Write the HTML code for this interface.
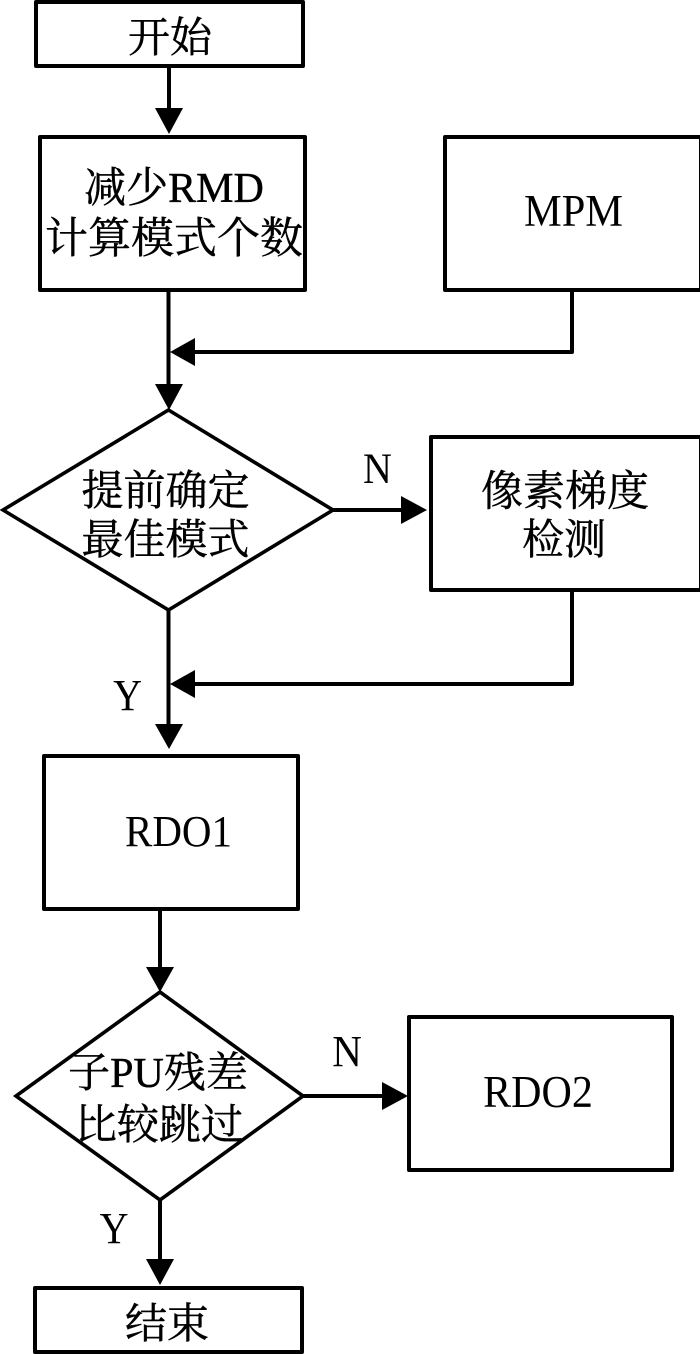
<!DOCTYPE html>
<html>
<head>
<meta charset="utf-8">
<style>
html,body{margin:0;padding:0;background:#fff;}
svg{display:block;}
text{font-family:"Liberation Serif","Noto Serif CJK SC",serif;fill:#000;text-anchor:middle;}
.c{stroke:#000;stroke-width:.45;}
.b{fill:none;stroke:#000;stroke-width:4;stroke-linejoin:round;}
.d{fill:none;stroke:#000;stroke-width:3.6;stroke-linejoin:miter;}
.l{fill:none;stroke:#000;stroke-width:4;stroke-linejoin:round;}
</style>
</head>
<body>
<svg width="700" height="1354" viewBox="0 0 700 1354" xmlns="http://www.w3.org/2000/svg">
<rect width="700" height="1354" fill="#fff"/>
<!-- boxes -->
<rect class="b" x="36" y="2" width="267" height="64"/>
<rect class="b" x="40" y="137" width="265" height="153"/>
<rect class="b" x="445" y="137" width="256" height="153"/>
<rect class="b" x="431" y="437" width="270" height="153"/>
<rect class="b" x="44" y="756" width="254" height="153"/>
<rect class="b" x="409" y="1017" width="263" height="153"/>
<rect class="b" x="35" y="1288" width="267" height="64"/>
<!-- diamonds -->
<polygon class="d" points="168.5,410 333,510 168.5,610 3,510"/>
<polygon class="d" points="160,992 303,1096 160,1200 16,1096"/>
<!-- connectors -->
<path class="l" d="M169,66V110"/>
<polygon points="155,108 183,108 169,134" fill="#000"/>
<path class="l" d="M168.5,290V386"/>
<polygon points="155,384 183,384 169,410" fill="#000"/>
<path class="l" d="M572,290V352H193"/>
<polygon points="195,338 195,366 170,352" fill="#000"/>
<path class="l" d="M333,510H403"/>
<polygon points="401,496 401,524 427,510" fill="#000"/>
<path class="l" d="M572,590V684H193"/>
<polygon points="195,670 195,698 170,684" fill="#000"/>
<path class="l" d="M168.5,610V726"/>
<polygon points="155,724 183,724 169,749" fill="#000"/>
<path class="l" d="M160,909V969"/>
<polygon points="146,967 174,967 160,992" fill="#000"/>
<path class="l" d="M303,1096H384"/>
<polygon points="382,1082 382,1110 408,1096" fill="#000"/>
<path class="l" d="M160,1200V1261"/>
<polygon points="146,1259 174,1259 160,1285" fill="#000"/>
<!-- labels -->
<text class="c" x="170" y="52" font-size="42">开始</text>
<text class="c" x="174" y="202" font-size="42">减少RMD</text>
<text class="c" x="174" y="253" font-size="43">计算模式个数</text>
<text transform="translate(573.5,226) scale(1,1.08)" font-size="42.4">MPM</text>
<text class="c" x="165.5" y="505" font-size="42">提前确定</text>
<text class="c" x="165.5" y="554" font-size="42">最佳模式</text>
<text transform="translate(377.5,483) scale(1,1.08)" font-size="40">N</text>
<text class="c" x="565" y="505.5" font-size="42">像素梯度</text>
<text class="c" x="564" y="554" font-size="42">检测</text>
<text transform="translate(127.5,710) scale(1,1.1)" font-size="40">Y</text>
<text transform="translate(178.5,846) scale(1,1.08)" font-size="41">RDO1</text>
<text class="c" x="158" y="1087" font-size="42">子PU残差</text>
<text class="c" x="159" y="1139" font-size="42">比较跳过</text>
<text transform="translate(347,1066) scale(1,1.08)" font-size="41">N</text>
<text transform="translate(538,1107) scale(1,1.08)" font-size="42">RDO2</text>
<text transform="translate(114,1243) scale(1,1.1)" font-size="40">Y</text>
<text class="c" x="167" y="1338" font-size="42">结束</text>
</svg>
</body>
</html>
